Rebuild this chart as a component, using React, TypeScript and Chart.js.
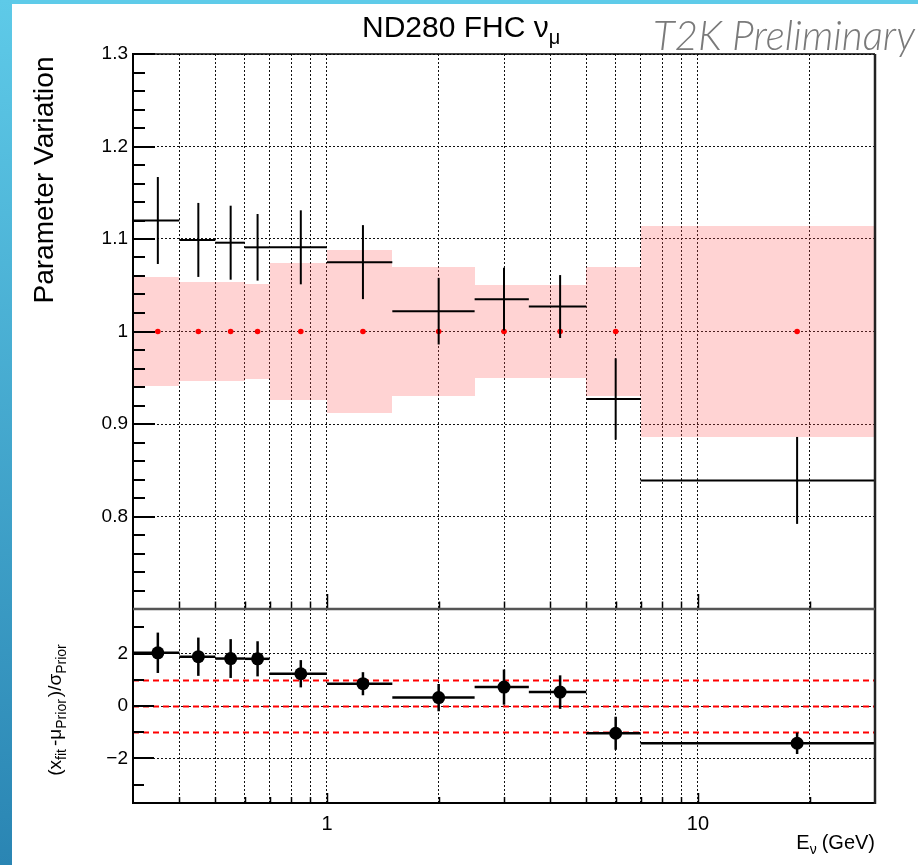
import React, { useEffect, useRef } from 'react';
import { Chart, registerables } from 'chart.js';

Chart.register(...registerables);

const FONT = '"Liberation Sans", Arial, Helvetica, sans-serif';

// ---- Data ----
const binLow = [0.3, 0.4, 0.5, 0.6, 0.7, 1.0, 1.5, 2.5, 3.5, 5.0, 7.0];
const binHigh = [0.4, 0.5, 0.6, 0.7, 1.0, 1.5, 2.5, 3.5, 5.0, 7.0, 30];
const binCenters = [0.35, 0.45, 0.55, 0.65, 0.85, 1.25, 2.0, 3.0, 4.25, 6.0, 18.5];
const priorValues = [1, 1, 1, 1, 1, 1, 1, 1, 1, 1, 1];
const priorErrors = [0.059, 0.053, 0.053, 0.051, 0.074, 0.088, 0.07, 0.05, 0.05, 0.07, 0.114];
const fitValues = [1.12, 1.099, 1.096, 1.091, 1.091, 1.075, 1.022, 1.035, 1.027, 0.927, 0.839];
const fitErrors = [0.047, 0.04, 0.04, 0.036, 0.04, 0.04, 0.036, 0.034, 0.034, 0.044, 0.047];
const pullValues = [2.03, 1.88, 1.81, 1.8, 1.23, 0.85, 0.32, 0.72, 0.53, -1.04, -1.42];
const pullErrors = [0.77, 0.73, 0.74, 0.67, 0.52, 0.44, 0.52, 0.67, 0.64, 0.63, 0.41];

// ---- Axes / ticks ----
const xGridValues = [0.3, 0.4, 0.5, 0.6, 0.7, 0.8, 0.9, 1, 2, 3, 4, 5, 6, 7, 8, 9, 10, 20, 30];
const xLabeledValues = [1, 10];
const topYTicks = [0.7, 0.8, 0.9, 1.0, 1.1, 1.2, 1.3];
const topYLabels = ['', '0.8', '0.9', '1', '1.1', '1.2', '1.3'];
const bottomYTicks = [-2, 0, 2];
const bottomYLabels = ['\u22122', '0', '2'];
const bottomMinorTicks = [-3, -1, 1, 3];
const pullRefLines = [1, 0, -1];

const titleMain = 'ND280 FHC \u03bd';
const titleSub = '\u03bc';
const watermark = 'T2K Preliminary';
const yTitleTop = 'Parameter Variation';

const GRID_DASH = [2, 2];

type Seg = { text: string; font: string; dy?: number; gap?: number };

function drawRich(ctx: CanvasRenderingContext2D, segs: Seg[], x: number, y: number, align: 'left' | 'center' | 'right', color: string) {
  let total = 0;
  const widths = segs.map((s) => {
    ctx.font = s.font;
    const w = ctx.measureText(s.text).width;
    total += w + (s.gap || 0);
    return w;
  });
  let cx = align === 'left' ? x : align === 'center' ? x - total / 2 : x - total;
  ctx.fillStyle = color;
  ctx.textBaseline = 'alphabetic';
  ctx.textAlign = 'left';
  segs.forEach((s, i) => {
    ctx.font = s.font;
    ctx.fillText(s.text, cx, y + (s.dy || 0));
    cx += widths[i] + (s.gap || 0);
  });
}

function line(ctx: CanvasRenderingContext2D, x0: number, y0: number, x1: number, y1: number) {
  ctx.beginPath();
  ctx.moveTo(x0, y0);
  ctx.lineTo(x1, y1);
  ctx.stroke();
}

function xAxis(showLabels: boolean, height: number) {
  return {
    type: 'logarithmic' as const,
    min: 0.3,
    max: 30,
    afterBuildTicks: (s: any) => {
      s.ticks = xGridValues.map((v) => ({ value: v }));
    },
    ticks: {
      display: showLabels,
      autoSkip: false,
      maxRotation: 0,
      padding: 9,
      color: '#000',
      font: { family: FONT, size: 20 },
      callback: (v: any) => (xLabeledValues.includes(Number(v)) ? String(v) : ''),
    },
    grid: { color: '#111', lineWidth: 1, drawTicks: false },
    border: { display: false, dash: GRID_DASH },
    afterFit: (s: any) => {
      s.height = height;
    },
  };
}

function drawXTicks(ctx: CanvasRenderingContext2D, chart: any, yBase: number, major: number, minor: number) {
  const xs = chart.scales.x;
  ctx.strokeStyle = '#000';
  ctx.lineWidth = 1.5;
  xGridValues.forEach((v) => {
    if (v === 0.3 || v === 30) return;
    const px = Math.round(xs.getPixelForValue(v)) + 0.5;
    const len = xLabeledValues.includes(v) ? major : minor;
    line(ctx, px, yBase, px, yBase - len);
  });
}

const topPlugin = {
  id: 'topPanel',
  beforeDatasetsDraw(chart: any) {
    const { ctx, chartArea, scales } = chart;
    const xs = scales.x;
    const ys = scales.y;
    ctx.save();
    ctx.beginPath();
    ctx.rect(chartArea.left, chartArea.top, chartArea.right - chartArea.left, chartArea.bottom - chartArea.top);
    ctx.clip();
    ctx.fillStyle = 'rgba(255, 80, 80, 0.25)';
    binLow.forEach((lo, i) => {
      const x0 = Math.round(xs.getPixelForValue(lo));
      const x1 = Math.round(xs.getPixelForValue(binHigh[i]));
      const y0 = Math.round(ys.getPixelForValue(priorValues[i] + priorErrors[i]));
      const y1 = Math.round(ys.getPixelForValue(priorValues[i] - priorErrors[i]));
      ctx.fillRect(x0, y0, x1 - x0, y1 - y0);
    });
    ctx.restore();
  },
  afterDatasetsDraw(chart: any) {
    const { ctx, scales } = chart;
    const xs = scales.x;
    const ys = scales.y;
    ctx.save();
    ctx.strokeStyle = '#000';
    ctx.lineWidth = 2;
    binLow.forEach((lo, i) => {
      const yc = ys.getPixelForValue(fitValues[i]);
      const xc = xs.getPixelForValue(binCenters[i]);
      line(ctx, xs.getPixelForValue(lo), yc, xs.getPixelForValue(binHigh[i]), yc);
      line(ctx, xc, ys.getPixelForValue(fitValues[i] + fitErrors[i]), xc, ys.getPixelForValue(fitValues[i] - fitErrors[i]));
    });
    ctx.restore();
  },
  afterDraw(chart: any) {
    const { ctx, chartArea, scales } = chart;
    const ys = scales.y;
    const { left, right, top, bottom } = chartArea;
    ctx.save();
    // y ticks inside frame
    ctx.strokeStyle = '#000';
    ctx.lineWidth = 2;
    for (let k = 0; k <= 30; k++) {
      const v = 0.7 + k * 0.02;
      const py = Math.round(ys.getPixelForValue(v));
      const len = k % 5 === 0 ? 22 : 12;
      line(ctx, left, py, left + len, py);
    }
    drawXTicks(ctx, chart, bottom, 15, 7.5);
    // frame
    ctx.strokeStyle = '#000';
    ctx.lineWidth = 1.5;
    line(ctx, left, top, right, top);
    ctx.lineWidth = 2.5;
    ctx.strokeStyle = '#222';
    line(ctx, right, top, right, bottom);
    ctx.lineWidth = 2;
    ctx.strokeStyle = '#000';
    line(ctx, left, top - 1, left, bottom);

    // Title
    drawRich(ctx, [
      { text: titleMain, font: `30px ${FONT}` },
      { text: titleSub, font: `20px ${FONT}`, dy: 7 },
    ], 362, 37, 'left', '#000');

    // Watermark
    const wmFamily = 'Lato, "Open Sans", sans-serif';
    ctx.font = `italic 300 37px ${wmFamily}`;
    const w = ctx.measureText(watermark).width;
    const size = (37 * 262) / w;
    drawRich(ctx, [{ text: watermark, font: `italic 300 ${size.toFixed(2)}px ${wmFamily}` }], 653, 50, 'left', '#7a7a7a');

    // y title
    ctx.save();
    ctx.translate(53, 180);
    ctx.rotate(-Math.PI / 2);
    drawRich(ctx, [{ text: yTitleTop, font: `28px ${FONT}` }], 0, 0, 'center', '#000');
    ctx.restore();
    ctx.restore();
  },
};

const bottomPlugin = {
  id: 'bottomPanel',
  beforeDatasetsDraw(chart: any) {
    const { ctx, chartArea, scales } = chart;
    const xs = scales.x;
    const ys = scales.y;
    ctx.save();
    ctx.strokeStyle = '#ff0000';
    ctx.lineWidth = 2;
    ctx.setLineDash([6, 4]);
    pullRefLines.forEach((v) => {
      const py = Math.round(ys.getPixelForValue(v)) + 0.5;
      line(ctx, chartArea.left, py, chartArea.right, py);
    });
    ctx.setLineDash([]);
    ctx.strokeStyle = '#000';
    ctx.lineWidth = 2.5;
    binLow.forEach((lo, i) => {
      const yc = ys.getPixelForValue(pullValues[i]);
      const xc = xs.getPixelForValue(binCenters[i]);
      line(ctx, xs.getPixelForValue(lo), yc, xs.getPixelForValue(binHigh[i]), yc);
      line(ctx, xc, ys.getPixelForValue(pullValues[i] + pullErrors[i]), xc, ys.getPixelForValue(pullValues[i] - pullErrors[i]));
    });
    ctx.restore();
  },
  afterDraw(chart: any) {
    const { ctx, chartArea, scales } = chart;
    const ys = scales.y;
    const { left, right, top, bottom } = chartArea;
    ctx.save();
    ctx.strokeStyle = '#000';
    ctx.lineWidth = 2;
    bottomYTicks.forEach((v) => {
      const py = Math.round(ys.getPixelForValue(v));
      line(ctx, left, py, left + 21, py);
    });
    bottomMinorTicks.forEach((v) => {
      const py = Math.round(ys.getPixelForValue(v));
      line(ctx, left, py, left + 11, py);
    });
    drawXTicks(ctx, chart, bottom, 10, 6);
    // frame
    ctx.lineWidth = 2;
    ctx.strokeStyle = '#000';
    line(ctx, left - 1, bottom, right + 1, bottom);
    line(ctx, left, top, left, bottom);
    ctx.strokeStyle = '#222';
    ctx.lineWidth = 2.5;
    line(ctx, right, top, right, bottom + 1);
    ctx.strokeStyle = '#555';
    ctx.lineWidth = 2.5;
    line(ctx, left, top, right, top);

    // y title
    ctx.save();
    ctx.translate(61, 710);
    ctx.rotate(-Math.PI / 2);
    drawRich(ctx, [
      { text: '(x', font: `19px ${FONT}` },
      { text: 'fit', font: `14px ${FONT}`, dy: 5, gap: 3 },
      { text: '-\u03bc', font: `19px ${FONT}` },
      { text: 'Prior', font: `14px ${FONT}`, dy: 5, gap: 2 },
      { text: ')/\u03c3', font: `19px ${FONT}` },
      { text: 'Prior', font: `14px ${FONT}`, dy: 5 },
    ], 0, 0, 'center', '#000');
    ctx.restore();

    // x title
    drawRich(ctx, [
      { text: 'E', font: `20px ${FONT}` },
      { text: '\u03bd', font: `14px ${FONT}`, dy: 5, gap: 5 },
      { text: '(GeV)', font: `20px ${FONT}` },
    ], 875, 849, 'right', '#000');
    ctx.restore();
  },
};

export default function App() {
  const topRef = useRef<HTMLCanvasElement>(null);
  const botRef = useRef<HTMLCanvasElement>(null);

  useEffect(() => {
    const topChart = new Chart(topRef.current as HTMLCanvasElement, {
      type: 'scatter',
      data: {
        datasets: [
          {
            label: 'Prior',
            data: binCenters.map((x, i) => ({ x, y: priorValues[i] })),
            pointRadius: 2.8,
            pointBackgroundColor: '#ff0000',
            pointBorderWidth: 0,
            showLine: false,
          },
          {
            label: 'Post-fit',
            data: binCenters.map((x, i) => ({ x, y: fitValues[i] })),
            pointRadius: 0,
            showLine: false,
          },
        ],
      },
      options: {
        animation: false,
        responsive: false,
        maintainAspectRatio: false,
        layout: { padding: { left: 0, top: 54, right: 43, bottom: 256 } },
        plugins: { legend: { display: false }, tooltip: { enabled: false } },
        scales: {
          x: xAxis(false, 0) as any,
          y: {
            min: 0.7,
            max: 1.3,
            afterBuildTicks: (s: any) => {
              s.ticks = topYTicks.map((v) => ({ value: v }));
            },
            ticks: {
              padding: 5,
              color: '#000',
              font: { family: FONT, size: 19 },
              callback: (v: any) => {
                const idx = topYTicks.findIndex((t) => Math.abs(t - Number(v)) < 1e-6);
                return idx >= 0 ? topYLabels[idx] : '';
              },
            },
            grid: { color: '#111', lineWidth: 1, drawTicks: false },
            border: { display: false, dash: GRID_DASH },
            afterFit: (s: any) => {
              s.width = 133;
            },
          } as any,
        },
      },
      plugins: [topPlugin],
    });

    const botChart = new Chart(botRef.current as HTMLCanvasElement, {
      type: 'scatter',
      data: {
        datasets: [
          {
            label: 'Pull',
            data: binCenters.map((x, i) => ({ x, y: pullValues[i] })),
            pointRadius: 6.5,
            pointBackgroundColor: '#000',
            pointBorderWidth: 0,
            showLine: false,
          },
        ],
      },
      options: {
        animation: false,
        responsive: false,
        maintainAspectRatio: false,
        layout: { padding: { left: 0, top: 609, right: 43, bottom: 0 } },
        plugins: { legend: { display: false }, tooltip: { enabled: false } },
        scales: {
          x: xAxis(true, 62) as any,
          y: {
            min: -3.7,
            max: 3.7,
            afterBuildTicks: (s: any) => {
              s.ticks = bottomYTicks.map((v) => ({ value: v }));
            },
            ticks: {
              padding: 5,
              color: '#000',
              font: { family: FONT, size: 19 },
              callback: (v: any) => {
                const idx = bottomYTicks.indexOf(Number(v));
                return idx >= 0 ? bottomYLabels[idx] : '';
              },
            },
            grid: { color: '#111', lineWidth: 1, drawTicks: false },
            border: { display: false, dash: GRID_DASH },
            afterFit: (s: any) => {
              s.width = 133;
            },
          } as any,
        },
      },
      plugins: [bottomPlugin],
    });

    return () => {
      topChart.destroy();
      botChart.destroy();
    };
  }, []);

  const canvasStyle: React.CSSProperties = { position: 'absolute', left: 0, top: 0, width: 918, height: 865 };

  return (
    <div style={{ position: 'absolute', left: 0, top: 0, width: 918, height: 865, background: '#fff', overflow: 'hidden' }}>
      <div style={{ position: 'absolute', left: 0, top: 0, width: 918, height: 4, background: '#5ECBE9' }} />
      <div style={{ position: 'absolute', left: 0, top: 0, width: 12, height: 865, background: 'linear-gradient(#5ECAE8, #2A85B3)' }} />
      <canvas ref={topRef} width={918} height={865} style={canvasStyle} />
      <canvas ref={botRef} width={918} height={865} style={canvasStyle} />
    </div>
  );
}
